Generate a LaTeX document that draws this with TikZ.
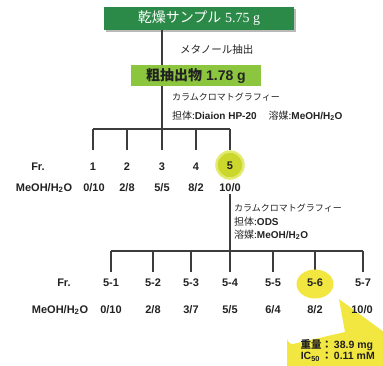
\documentclass[tikz,border=0pt]{standalone}
\usepackage{fontspec}
\setmainfont{Liberation Sans}
\newfontfamily\jp{Noto Sans CJK JP}
\newfontfamily\serifnum{Liberation Serif}
\usetikzlibrary{shapes.geometric}
\definecolor{dkgreen}{HTML}{2B8A48}
\definecolor{ltgreen}{HTML}{8CC63F}
\definecolor{lnc}{HTML}{3C3C3C}
\definecolor{txc}{HTML}{222222}
\definecolor{yel}{HTML}{F2E640}
\definecolor{ygreen}{HTML}{CBD72C}
\definecolor{ygrim}{HTML}{E2EA70}
\newcommand{\fs}[1]{\fontsize{#1}{#1}\selectfont}
\begin{document}
\begin{tikzpicture}[x=1pt,y=-1pt,
  conn/.style={draw=lnc,line width=1.3pt},
  boxa/.style={fill=dkgreen,minimum width=190pt,minimum height=23pt,inner sep=0pt,text=white,font=\fs{14}},
  boxb/.style={fill=ltgreen,minimum width=130pt,minimum height=21pt,inner sep=0pt,text=txc,font=\fs{14}\bfseries},
  note/.style={anchor=west,inner sep=0pt,text=txc,font=\fs{9}},
  notb/.style={anchor=west,inner sep=0pt,text=txc,font=\fs{10}},
  lab/.style={inner sep=1pt,text=txc,font=\fs{11}\bfseries},
  callt/.style={inner sep=0pt,text=txc,font=\fs{10.5}\bfseries}]
\useasboundingbox (0,0) rectangle (383,365);
\clip (0,0) rectangle (383,365);
% top box with shadow
\fill[gray!55] (105.5,8.5) rectangle (295.5,31.5);
\node[boxa] (top) at (199,18.5) {{\jp 乾燥サンプル}\ {\serifnum 5.75 g}};
% stem
\coordinate (j1) at (162,129);
\draw[conn] (top.south -| j1) -- (j1);
\node[boxb] (crude) at (196,75.5) {{\jp 粗抽出物}\ 1.78 g};
\node[note,font=\fs{10.5}] (meth) at (180,50) {\jp メタノール抽出};
\node[note] (cc1) at (172,97) {\jp カラムクロマトグラフィー};
\node[notb] (sup1) at (172,116) {{\jp 担体:}\textbf{Diaion HP-20}\hspace{12pt}{\jp 溶媒:}\textbf{MeOH/H\textsubscript{2}O}};
% first bar
\coordinate (b1) at (93,129);
\coordinate (b2) at (127,129);
\coordinate (b3) at (162,129);
\coordinate (b4) at (196,129);
\coordinate (b5) at (230,129);
\draw[conn] (b1) -- (b5);
\foreach \i in {1,...,5} {\draw[conn] (b\i) -- ++(0,21);}
% circle 5
\node[circle,fill=ygreen,draw=ygrim,line width=2.5pt,minimum size=27pt,inner sep=0pt] (c5) at (230,165) {};
\node[lab] (fa) at (38,167) {Fr.};
\node[lab] (n1) at (93,167) {1};
\node[lab] (n2) at (127,167) {2};
\node[lab] (n3) at (162,167) {3};
\node[lab] (n4) at (196,167) {4};
\node[lab] (n5) at (230,166) {5};
\node[lab] (ma) at (44,188) {MeOH/H\textsubscript{2}O};
\node[lab] (m1) at (94,188) {0/10};
\node[lab] (m2) at (127,188) {2/8};
\node[lab] (m3) at (162,188) {5/5};
\node[lab] (m4) at (196,188) {8/2};
\node[lab] (m5) at (230,188) {10/0};
% second stem
\coordinate (j2) at (230,251);
\draw[conn] (m5.south) ++(0,1) -- (j2);
\node[note] (cc2) at (234,208) {\jp カラムクロマトグラフィー};
\node[notb] (sup2) at (234,221.5) {{\jp 担体:}\textbf{ODS}};
\node[notb] (sol2) at (234,235) {{\jp 溶媒:}\textbf{MeOH/H\textsubscript{2}O}};
% second bar
\coordinate (d1) at (111,251);
\coordinate (d2) at (153,251);
\coordinate (d3) at (191,251);
\coordinate (d4) at (230,251);
\coordinate (d5) at (273,251);
\coordinate (d6) at (315,251);
\coordinate (d7) at (363,251);
\draw[conn] (d1) -- (d7);
\foreach \i in {1,...,7} {\draw[conn] (d\i) -- ++(0,21);}
\node[ellipse,fill=yel,minimum width=37pt,minimum height=29pt,inner sep=0pt] (e6) at (315,284) {};
\node[lab] (fb) at (64,283) {Fr.};
\node[lab] (s1) at (111,283) {5-1};
\node[lab] (s2) at (153,283) {5-2};
\node[lab] (s3) at (191,283) {5-3};
\node[lab] (s4) at (230,283) {5-4};
\node[lab] (s5) at (273,283) {5-5};
\node[lab] (s6) at (315,283) {5-6};
\node[lab] (s7) at (363,283) {5-7};
\node[lab] (mb) at (60,310) {MeOH/H\textsubscript{2}O};
\node[lab] (v1) at (111,310) {0/10};
\node[lab] (v2) at (153,310) {2/8};
\node[lab] (v3) at (191,310) {3/7};
\node[lab] (v4) at (230,310) {5/5};
\node[lab] (v5) at (273,310) {6/4};
\node[lab] (v6) at (315,310) {8/2};
% callout
\coordinate (tip) at (339,299);
\fill[yel] (287,370) -- (287,338) arc[start angle=180,end angle=90,radius=6] -- (345,332) -- (tip) -- (384,332) -- (384,370) -- cycle;
\node[lab] (v7) at (362,310) {10/0};
\node[callt,anchor=north east] (w1) at (375,339) {\renewcommand{\arraystretch}{1.1}\begin{tabular}{@{}r@{}l@{}}{\jp 重量：}&\,38.9 mg\\IC\textsubscript{50}\,{\jp ：}&\,0.11 mM\end{tabular}};
\end{tikzpicture}
\end{document}
